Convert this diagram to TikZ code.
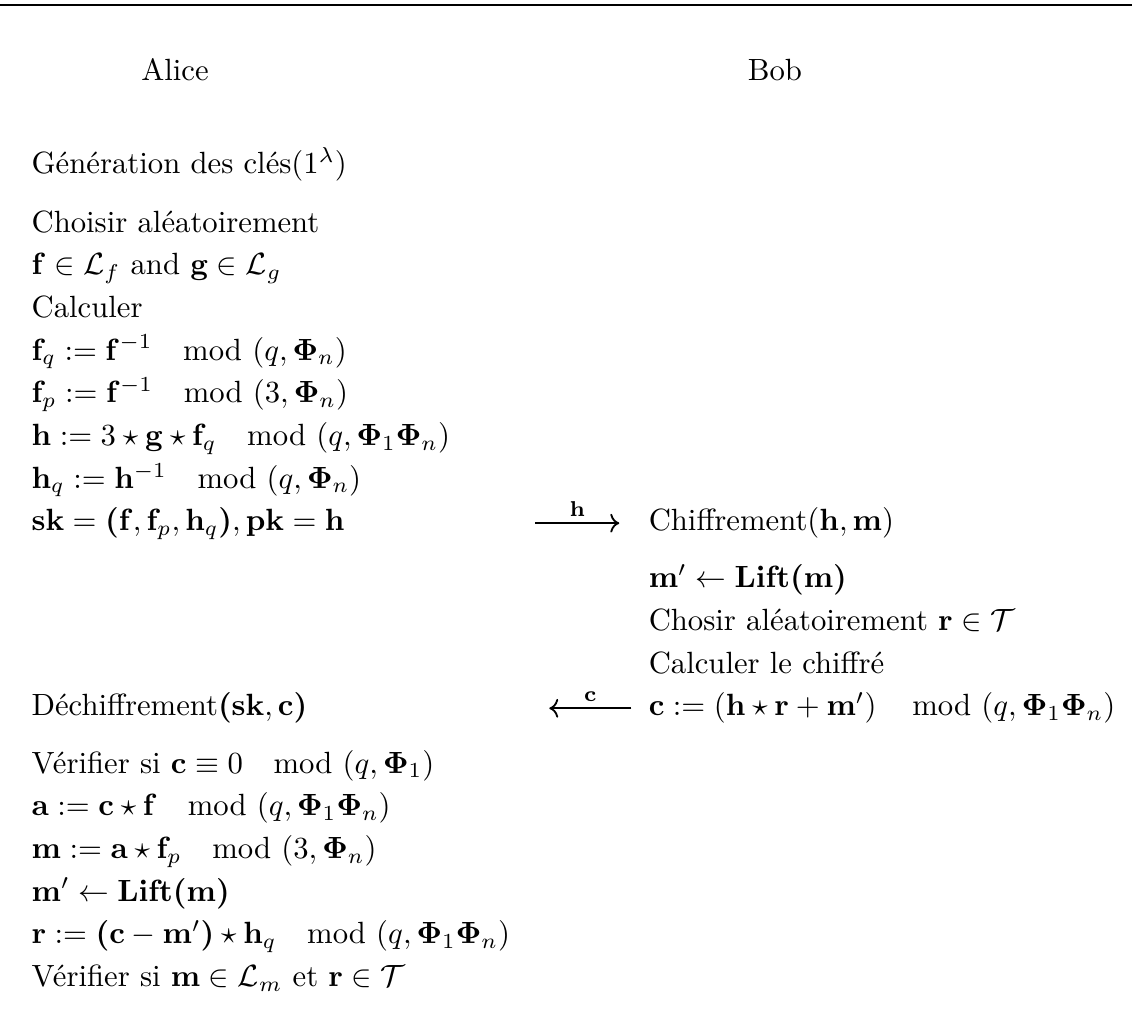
\documentclass[tikz,border=0pt]{standalone}
\usepackage{amsmath,amssymb}
\usepackage{tikz}
\usetikzlibrary{arrows.meta,positioning}
\newcommand{\modq}[1]{\quad\mathrm{mod}\ (#1)}
\newcommand{\bpar}[1]{\boldsymbol{(}#1\boldsymbol{)}}
\newcommand{\bPhi}{\mathbf{\Phi}}

\begin{document}
\begin{tikzpicture}[
  row/.style={anchor=base west,inner sep=0pt},
  who/.style={anchor=base,inner sep=0pt},
  msg/.style={-{Computer Modern Rightarrow},line width=0.6pt},
  lbl/.style={above,font=\scriptsize,inner sep=2pt}]
\useasboundingbox (0,0) rectangle (368.7pt,-336.8pt);
\draw[line width=0.4pt] (0,-1.6pt) -- (368.7pt,-1.6pt);
\node[who] (alice) at (57pt,-26.1pt) {Alice};
\node[who] (bob) at (252.4pt,-26.1pt) {Bob};
% key generation (Alice)
\node[row] (gen) at (10.1pt,-56.4pt) {Génération des clés$(1^{\lambda})$};
\node[below=19.2pt of gen.base west,row] (cho) {Choisir aléatoirement};
\node[below=13.9pt of cho.base west,row] (fg) {$\mathbf{f} \in \mathcal{L}_f$ and $\mathbf{g} \in \mathcal{L}_g$};
\node[below=13.9pt of fg.base west,row] (calc) {Calculer};
\node[below=13.9pt of calc.base west,row] (fq) {$\mathbf{f}_q := \mathbf{f}^{-1} \modq{q, \bPhi_n}$};
\node[below=13.9pt of fq.base west,row] (fp) {$\mathbf{f}_p := \mathbf{f}^{-1} \modq{3, \bPhi_n}$};
\node[below=13.9pt of fp.base west,row] (hh) {$\mathbf{h} := 3 \star \mathbf{g} \star \mathbf{f}_q \modq{q, \bPhi_1\bPhi_n}$};
\node[below=13.9pt of hh.base west,row] (hq) {$\mathbf{h}_q := \mathbf{h}^{-1} \modq{q, \bPhi_n}$};
\node[below=13.9pt of hq.base west,row] (sk) {$\mathbf{sk} = \bpar{\mathbf{f}, \mathbf{f}_p, \mathbf{h}_q}, \mathbf{pk} = \mathbf{h}$};
% encryption (Bob)
\node[row] (chif) at (211.1pt,-172.9pt) {Chiffrement$(\mathbf{h}, \mathbf{m})$};
\node[below=18.6pt of chif.base west,row] (lift) {$\mathbf{m}' \leftarrow \mathbf{Lift}\bpar{\mathbf{m}}$};
\node[below=13.9pt of lift.base west,row] (chr) {Chosir aléatoirement $\mathbf{r} \in \mathcal{T}$};
\node[below=13.9pt of chr.base west,row] (calc2) {Calculer le chiffré};
\node[below=13.9pt of calc2.base west,row] (cc) {$\mathbf{c} := \left(\mathbf{h} \star \mathbf{r} + \mathbf{m}'\right) \modq{q, \bPhi_1\bPhi_n}$};
% decryption (Alice)
\node[row] (dech) at (10.1pt,-233.2pt) {Déchiffrement$\bpar{\mathbf{sk}, \mathbf{c}}$};
\node[below=18.6pt of dech.base west,row] (ver) {Vérifier si $\mathbf{c} \equiv 0 \modq{q, \bPhi_1}$};
\node[below=13.9pt of ver.base west,row] (aa) {$\mathbf{a} := \mathbf{c} \star \mathbf{f} \modq{q, \bPhi_1\bPhi_n}$};
\node[below=13.9pt of aa.base west,row] (mm) {$\mathbf{m} := \mathbf{a} \star \mathbf{f}_p \modq{3, \bPhi_n}$};
\node[below=13.9pt of mm.base west,row] (lift2) {$\mathbf{m}' \leftarrow \mathbf{Lift}\bpar{\mathbf{m}}$};
\node[below=13.9pt of lift2.base west,row] (rr) {$\mathbf{r} := \bpar{\mathbf{c} - \mathbf{m}'} \star \mathbf{h}_q \modq{q, \bPhi_1\bPhi_n}$};
\node[below=13.9pt of rr.base west,row] (ver2) {Vérifier si $\mathbf{m} \in \mathcal{L}_m$ et $\mathbf{r} \in \mathcal{T}$};
% messages
\coordinate (he) at ([xshift=-9.4pt,yshift=2.5pt]chif.base west);
\coordinate (hs) at ([xshift=-27.3pt]he);
\coordinate (cs) at ([xshift=-5.5pt,yshift=2.5pt]cc.base west);
\coordinate (ce) at ([xshift=-26.7pt]cs);
\draw[msg] (hs) -- node[lbl] {$\mathbf{h}$} (he);
\draw[msg] (cs) -- node[lbl] {$\mathbf{c}$} (ce);
\end{tikzpicture}
\end{document}
